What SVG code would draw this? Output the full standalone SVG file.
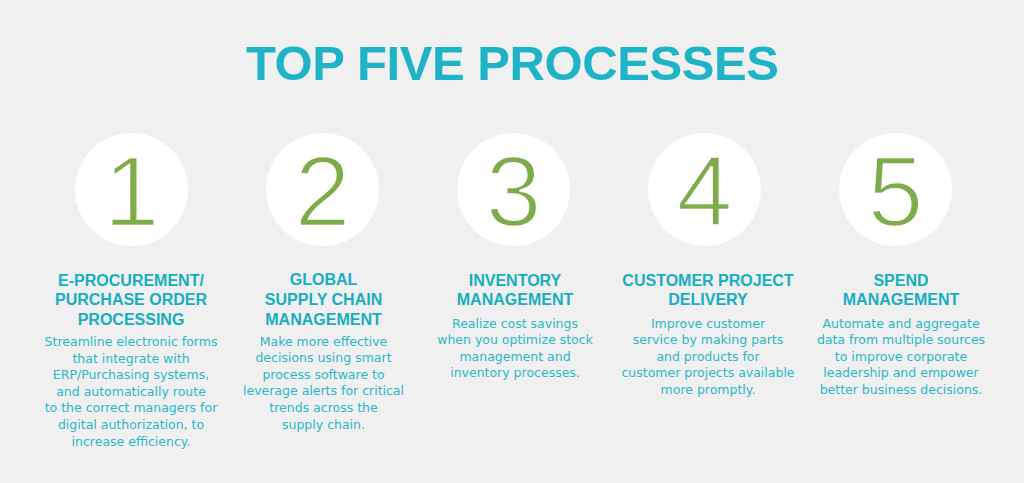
<svg xmlns="http://www.w3.org/2000/svg" width="1024" height="483" viewBox="0 0 1024 483">
<style>
.bg{fill:#f0f0f0}
.title{font-family:"Liberation Sans",Arial,sans-serif;font-weight:bold;font-size:49px;fill:#1fb3c7;text-anchor:middle}
.circ{fill:#ffffff}
.num{font-family:"Liberation Sans",Arial,sans-serif;font-size:101px;fill:#7fac4a;stroke:#ffffff;stroke-width:2.6px;text-anchor:middle}
.head{font-family:"Liberation Sans",Arial,sans-serif;font-weight:bold;font-size:16px;fill:#17adc2;text-anchor:middle}
.body{font-family:"DejaVu Sans","Liberation Sans",sans-serif;font-size:12.5px;fill:#2ab7ca;text-anchor:middle}
</style>
<rect class="bg" x="0" y="0" width="1024" height="483"/>
<text id="title" class="title" x="512.5" y="80" textLength="533" lengthAdjust="spacing">TOP FIVE PROCESSES</text>

<g id="node1">
<circle class="circ" cx="131.5" cy="189.5" r="56.5"/>
<text class="num" x="131.5" y="225.5">1</text>
<text class="head" x="131" y="286">E-PROCUREMENT/</text>
<text class="head" x="131" y="305.3">PURCHASE ORDER</text>
<text class="head" x="131" y="324.7">PROCESSING</text>
<text class="body" x="131" y="346">Streamline electronic forms</text>
<text class="body" x="131" y="362.6">that integrate with</text>
<text class="body" x="131" y="379.2">ERP/Purchasing systems,</text>
<text class="body" x="131" y="395.8">and automatically route</text>
<text class="body" x="131" y="412.4">to the correct managers for</text>
<text class="body" x="131" y="429">digital authorization, to</text>
<text class="body" x="131" y="445.6">increase efficiency.</text>
</g>

<g id="node2">
<circle class="circ" cx="322.5" cy="189.5" r="56.5"/>
<text class="num" x="322.5" y="225.5">2</text>
<text class="head" x="323.5" y="285">GLOBAL</text>
<text class="head" x="323.5" y="305.3">SUPPLY CHAIN</text>
<text class="head" x="323.5" y="324.7">MANAGEMENT</text>
<text class="body" x="323.5" y="345.5">Make more effective</text>
<text class="body" x="323.5" y="362.1">decisions using smart</text>
<text class="body" x="323.5" y="378.7">process software to</text>
<text class="body" x="323.5" y="395.3">leverage alerts for critical</text>
<text class="body" x="323.5" y="411.9">trends across the</text>
<text class="body" x="323.5" y="428.5">supply chain.</text>
</g>

<g id="node3">
<circle class="circ" cx="513.5" cy="189.5" r="56.5"/>
<text class="num" x="513.5" y="225.5">3</text>
<text class="head" x="515" y="286">INVENTORY</text>
<text class="head" x="515" y="305.3">MANAGEMENT</text>
<text class="body" x="515" y="327.7">Realize cost savings</text>
<text class="body" x="515" y="344.2">when you optimize stock</text>
<text class="body" x="515" y="360.7">management and</text>
<text class="body" x="515" y="377.2">inventory processes.</text>
</g>

<g id="node4">
<circle class="circ" cx="704.5" cy="189.5" r="56.5"/>
<text class="num" x="704.5" y="225.5">4</text>
<text class="head" x="708" y="286">CUSTOMER PROJECT</text>
<text class="head" x="708" y="305.3">DELIVERY</text>
<text class="body" x="708" y="327.5">Improve customer</text>
<text class="body" x="708" y="344">service by making parts</text>
<text class="body" x="708" y="360.5">and products for</text>
<text class="body" x="708" y="377">customer projects available</text>
<text class="body" x="708" y="393.5">more promptly.</text>
</g>

<g id="node5">
<circle class="circ" cx="895.5" cy="189.5" r="56.5"/>
<text class="num" x="895.5" y="225.5">5</text>
<text class="head" x="901" y="286">SPEND</text>
<text class="head" x="901" y="305.3">MANAGEMENT</text>
<text class="body" x="901" y="327.5">Automate and aggregate</text>
<text class="body" x="901" y="344">data from multiple sources</text>
<text class="body" x="901" y="360.5">to improve corporate</text>
<text class="body" x="901" y="377">leadership and empower</text>
<text class="body" x="901" y="393.5">better business decisions.</text>
</g>

<g id="connectors"></g>
</svg>
